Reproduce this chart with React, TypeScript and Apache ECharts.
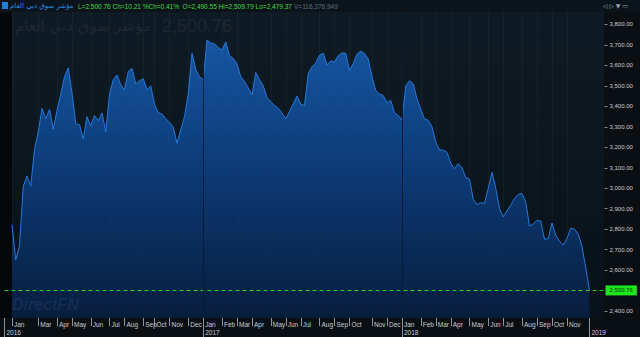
import React, { useEffect, useRef } from 'react';
import * as echarts from 'echarts';

// Index name and header statistics
const indexName = 'مؤشر سوق دبي العام';
const headerStats = 'L=2,500.76 Ch=10.21 %Ch=0.41%  O=2,490.55 Hi=2,509.79 Lo=2,479.37';
const volumeText = 'V=116,376,949';

// Close values (one per slot, Jan 2016 -> end Dec 2018)
const closeValues = [
  2822, 2650, 2720, 3010, 3060, 3010, 3190, 3275, 3390, 3340,
  3385, 3290, 3380, 3460, 3545, 3588, 3466, 3315, 3310, 3240,
  3350, 3305, 3355, 3330, 3368, 3276, 3460, 3530, 3554, 3505,
  3480, 3570, 3585, 3510, 3525, 3535, 3481, 3500, 3410, 3370,
  3362, 3340, 3322, 3298, 3220, 3285, 3350, 3460, 3661, 3580,
  3544, 3530, 3724, 3710, 3705, 3688, 3675, 3715, 3648, 3634,
  3607, 3545, 3522, 3490, 3456, 3565, 3530, 3500, 3442, 3423,
  3405, 3390, 3368, 3338, 3375, 3413, 3450, 3410, 3405, 3560,
  3593, 3612, 3650, 3660, 3602, 3622, 3618, 3647, 3661, 3660,
  3575, 3610, 3655, 3670, 3658, 3631, 3544, 3478, 3460, 3453,
  3417, 3430, 3369, 3355, 3334, 3500, 3525, 3510, 3437, 3386,
  3338, 3332, 3300, 3225, 3187, 3186, 3175, 3122, 3095, 3120,
  3100, 3052, 3045, 2945, 2920, 2930, 2925, 3000, 3078, 3000,
  2900, 2860, 2890, 2918, 2950, 2970, 2974, 2932, 2815, 2826,
  2842, 2840, 2750, 2755, 2830, 2770, 2740, 2723, 2755, 2805,
  2800, 2776, 2715, 2610, 2500.76,
];
const padStart = 2;
const padEnd = 4;

// Bottom axis tick labels (slot index, label)
const monthTickSlots = [2, 9, 14, 18, 23, 28, 32, 37, 40, 44, 49, 53, 58, 62, 66, 71, 75, 79, 84, 88, 92, 98, 102, 106, 111, 115, 119, 124, 129, 133, 138, 142, 146, 150];
const monthTickLabels = ['Jan', 'Mar', 'Apr', 'May', 'Jun', 'Jul', 'Aug', 'Sep', 'Oct', 'Nov', 'Dec', 'Jan', 'Feb', 'Mar', 'Apr', 'May', 'Jun', 'Jul', 'Aug', 'Sep', 'Oct', 'Nov', 'Dec', 'Jan', 'Feb', 'Mar', 'Apr', 'May', 'Jun', 'Jul', 'Aug', 'Sep', 'Oct', 'Nov'];
const yearTickSlots = [0, 53, 106, 156];
const yearTickLabels = ['2016', '2017', '2018', '2019'];

// Right axis tick values
const yTickValues = [2400, 2600, 2700, 2800, 2900, 3000, 3100, 3200, 3300, 3400, 3500, 3600, 3700, 3800];

const fmt = (v: number) =>
  v.toLocaleString('en-US', { minimumFractionDigits: 2, maximumFractionDigits: 2 });

export default function App() {
  const ref = useRef<HTMLDivElement>(null);
  useEffect(() => {
    if (!ref.current) return;
    const chart = echarts.init(ref.current, null, { renderer: 'svg' });
    const total = padStart + closeValues.length + padEnd;
    const categories = Array.from({ length: total }, (_, i) => `s${i}`);
    const seriesData: (number | null)[] = [
      ...Array(padStart).fill(null),
      ...closeValues,
      ...Array(padEnd).fill(null),
    ];
    const monthMap = new Map<number, string>();
    monthTickSlots.forEach((s, i) => monthMap.set(s, monthTickLabels[i]));
    const yearMap = new Map<number, string>();
    yearTickSlots.forEach((s, i) => yearMap.set(s, yearTickLabels[i]));
    const last = closeValues[closeValues.length - 1];
    const latin = 'Liberation Sans, Arial, sans-serif';
    const arabic = 'DejaVu Sans, Noto Sans, sans-serif';

    const option: any = {
      animation: false,
      backgroundColor: '#0a0f14',
      grid: { left: 4.5, right: 35.5, top: 12, bottom: 19, containLabel: false },
      graphic: [
        { type: 'rect', z: -10, silent: true, shape: { x: 0, y: 0, width: 640, height: 12 }, style: { fill: '#0b141a' } },
        {
          type: 'rect', z: -10, silent: true, shape: { x: 12, y: 12, width: 592, height: 306 },
          style: {
            fill: new echarts.graphic.LinearGradient(0, 0, 0, 1, [
              { offset: 0, color: '#0f1b24' },
              { offset: 1, color: '#09111a' },
            ]),
          },
        },
        { type: 'rect', z: -10, silent: true, shape: { x: 0, y: 12, width: 12, height: 306 }, style: { fill: '#05080b' } },
        { type: 'rect', z: -10, silent: true, shape: { x: 2, y: 2, width: 6, height: 7 }, style: { fill: '#1f80dc' } },
        {
          type: 'text', z: 10, silent: true, x: 10, y: 6,
          style: { text: indexName, fill: '#2a8be2', fontSize: 7, fontFamily: arabic, verticalAlign: 'middle', align: 'left' },
        },
        {
          type: 'text', z: 10, silent: true, x: 78, y: 6,
          style: { text: headerStats, fill: '#46d846', fontSize: 6.5, fontFamily: latin, verticalAlign: 'middle', align: 'left' },
        },
        {
          type: 'text', z: 10, silent: true, x: 294, y: 6,
          style: { text: volumeText, fill: '#5f6e7a', fontSize: 6.5, fontFamily: latin, verticalAlign: 'middle', align: 'left' },
        },
        {
          type: 'text', z: 10, silent: true, x: 628, y: 5,
          style: { text: '◁ ▷ ▼ ▭', fill: '#9aa4ad', fontSize: 6, fontFamily: arabic, verticalAlign: 'middle', align: 'right' },
        },
        {
          type: 'text', z: 1, silent: true, x: 151, y: 26,
          style: { text: indexName, fill: '#1d2832', fontSize: 15, fontFamily: arabic, verticalAlign: 'middle', align: 'right' },
        },
        {
          type: 'text', z: 1, silent: true, x: 152, y: 26,
          style: { text: ': ' + fmt(last), fill: '#1d2832', fontSize: 18, fontFamily: latin, verticalAlign: 'middle', align: 'left' },
        },
        {
          type: 'text', z: 10, silent: true, x: 12, y: 304,
          style: { text: 'DirectFN', fill: 'rgba(140,175,230,0.10)', fontSize: 16, fontStyle: 'italic', fontWeight: 'bold', fontFamily: latin, verticalAlign: 'middle', align: 'left' },
        },
      ],
      xAxis: [
        {
          type: 'category', data: categories, boundaryGap: false, position: 'bottom', offset: 0,
          axisLine: { show: false },
          axisTick: { show: true, interval: (i: number) => monthMap.has(i), length: 8, lineStyle: { color: '#8d949b', width: 1 } },
          axisLabel: {
            show: true, interval: (i: number) => monthMap.has(i),
            formatter: (_v: string, i: number) => monthMap.get(i) ?? '',
            align: 'left', margin: 3, fontSize: 6.5, color: '#c9ced3', fontFamily: latin, padding: [0, 0, 0, 2],
          },
          splitLine: { show: true, interval: (i: number) => monthMap.has(i), lineStyle: { color: 'rgba(255,255,255,0.035)', width: 1 } },
        },
        {
          type: 'category', data: categories, boundaryGap: false, position: 'bottom', offset: 0,
          axisLine: { show: false },
          axisTick: { show: true, interval: (i: number) => yearMap.has(i), length: 19, lineStyle: { color: '#8d949b', width: 1 } },
          axisLabel: {
            show: true, interval: (i: number) => yearMap.has(i),
            formatter: (_v: string, i: number) => yearMap.get(i) ?? '',
            align: 'left', margin: 11, fontSize: 6.5, color: '#c9ced3', fontFamily: latin, padding: [0, 0, 0, 2],
          },
          splitLine: { show: false },
        },
      ],
      yAxis: {
        type: 'value', position: 'right', min: 2366, max: 3861, scale: true,
        axisLine: { show: false },
        splitLine: { show: false },
        axisTick: { show: true, length: 3, customValues: yTickValues, lineStyle: { color: '#7d858c' } },
        axisLabel: { customValues: yTickValues, formatter: (v: number) => fmt(v), fontSize: 6, color: '#c9ced3', margin: 5, fontFamily: latin },
      },
      series: [
        {
          type: 'line', data: seriesData, xAxisIndex: 0, yAxisIndex: 0, showSymbol: false, symbol: 'none',
          lineStyle: { color: '#2479dc', width: 1 },
          areaStyle: {
            origin: 'start',
            color: new echarts.graphic.LinearGradient(0, 0, 0, 1, [
              { offset: 0, color: '#1a6fd8' },
              { offset: 0.45, color: '#0d4b9e' },
              { offset: 1, color: '#07234d' },
            ]),
          },
          markLine: {
            silent: true, symbol: ['none', 'none'], animation: false,
            data: [
              {
                yAxis: last,
                lineStyle: { color: '#21d421', type: [4, 3], width: 1 },
                label: {
                  show: true, position: 'end', formatter: fmt(last), backgroundColor: '#1ee61e',
                  color: '#063006', fontSize: 6, padding: [2, 4, 2, 4], distance: 1, fontFamily: latin,
                },
              },
              { xAxis: categories[padStart + 51], lineStyle: { color: '#0a1c33', type: 'solid', width: 1 }, label: { show: false } },
              { xAxis: categories[padStart + 104], lineStyle: { color: '#0a1c33', type: 'solid', width: 1 }, label: { show: false } },
            ],
          },
        },
      ],
    };
    chart.setOption(option);
    return () => chart.dispose();
  }, []);
  return <div ref={ref} style={{ position: 'fixed', left: 0, top: 0, width: 640, height: 337 }} />;
}
